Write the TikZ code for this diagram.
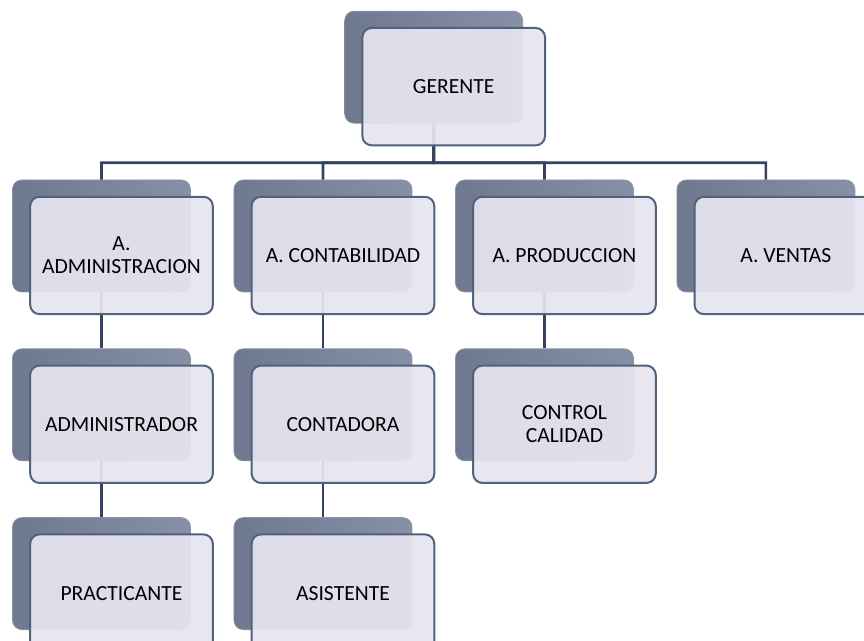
\documentclass[tikz,border=0pt]{standalone}
\usepackage{fontspec}
\setmainfont{Carlito}
\usetikzlibrary{positioning}
\usetikzlibrary{calc}
\definecolor{linkblue}{RGB}{52,68,94}
\definecolor{frontfill}{RGB}{230,228,240}
\definecolor{frontline}{RGB}{80,98,124}
\definecolor{backdark}{RGB}{110,120,142}
\definecolor{backlight}{RGB}{134,144,166}
\tikzset {
  % box that lies behind each post
  back box/.style = {
    rectangle,
    rounded corners = 7pt,
    minimum width = 133.5pt,
    minimum height = 84pt,
    left color = backdark,
    right color = backlight,
    draw = backdark!80!white,
    line width = 0.6pt
  },
  % box with the name of the post
  front box/.style = {
    rectangle,
    rounded corners = 7pt,
    draw = frontline,
    line width = 1.5pt,
    fill = frontfill,
    fill opacity = 0.93,
    text opacity = 1,
    minimum width = 137pt,
    minimum height = 88pt,
    align = center,
    font = \fontsize{16.2}{17}\selectfont,
    xshift = 15pt,
    yshift = -14.6pt
  },
  link/.style = {
    draw = linkblue,
    line width = 2pt
  },
  node distance = 42pt and 32pt
}

\begin{document}
\begin{tikzpicture}[x=0.75pt,y=-0.75pt]
    \useasboundingbox (0,0) rectangle (864,641);
    \clip (0,0) rectangle (864,641);

    \node[back box] (admin-b) at (101.5,236) {};
    \node[back box] (contab-b) [right=of admin-b] {};
    \node[back box] (prod-b) [right=of contab-b] {};
    \node[back box] (ventas-b) [right=of prod-b] {};
    \coordinate (top) at ($(contab-b.north)!0.5!(prod-b.north)$);
    \node[back box] (ger-b) [above=of top] {};
    \node[back box] (adm-b) [below=of admin-b] {};
    \node[back box] (cont-b) [below=of contab-b] {};
    \node[back box] (cal-b) [below=of prod-b] {};
    \node[back box] (prac-b) [below=of adm-b] {};
    \node[back box] (asis-b) [below=of cont-b] {};

    \coordinate (bus) at ($(ger-b.south)!0.7!(ger-b.south |- contab-b.north)$);
    \foreach \n in {admin-b, contab-b, prod-b, ventas-b}
      \draw[link] (ger-b.south) -- (bus) -| (\n.north);

    \draw[link] (admin-b) -- (adm-b) -- (prac-b);
    \draw[link] (contab-b) -- (cont-b) -- (asis-b);
    \draw[link] (prod-b) -- (cal-b);

    \node[front box] (ger) at (ger-b) {GERENTE};
    \node[front box] (admin) at (admin-b) {A.\\ADMINISTRACION};
    \node[front box] (contab) at (contab-b) {A. CONTABILIDAD};
    \node[front box] (prod) at (prod-b) {A. PRODUCCION};
    \node[front box] (ventas) at (ventas-b) {A. VENTAS};
    \node[front box] (adm) at (adm-b) {ADMINISTRADOR};
    \node[front box] (cont) at (cont-b) {CONTADORA};
    \node[front box] (cal) at (cal-b) {CONTROL\\CALIDAD};
    \node[front box] (prac) at (prac-b) {PRACTICANTE};
    \node[front box] (asis) at (asis-b) {ASISTENTE};

\end{tikzpicture}
\end{document}
